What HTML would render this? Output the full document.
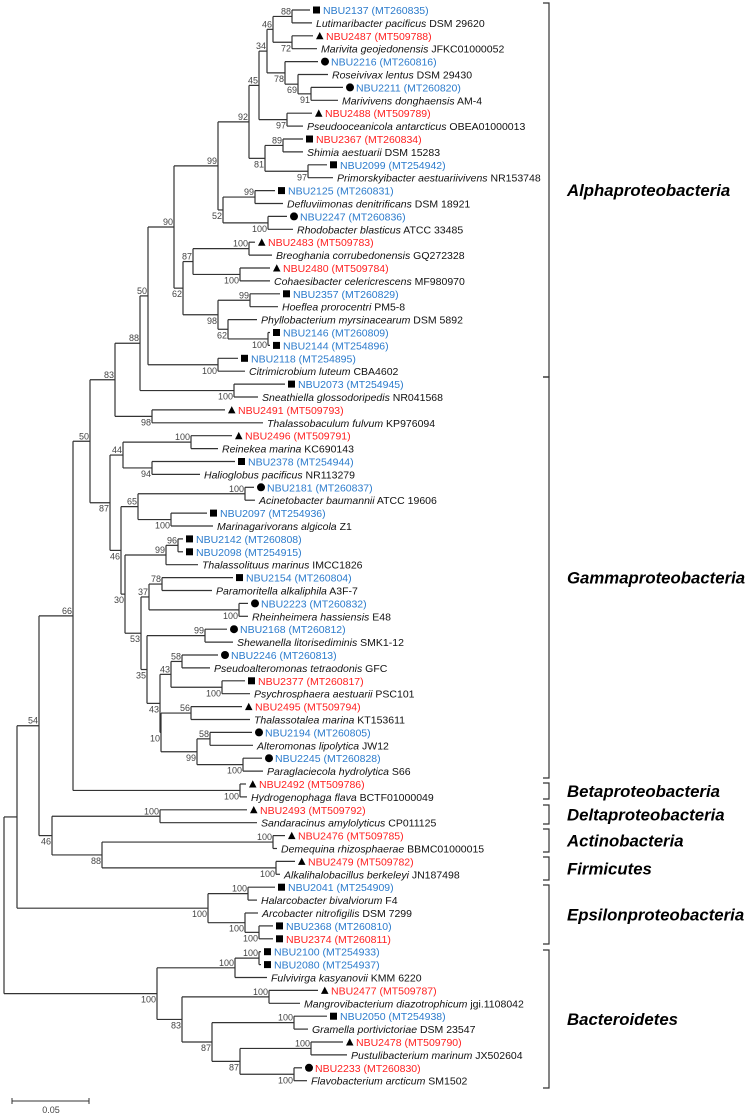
<!DOCTYPE html>
<html><head><meta charset="utf-8"><style>
html,body{margin:0;padding:0;background:#fff;}
svg{display:block;font-family:"Liberation Sans",Arial,sans-serif;}
</style></head><body>
<svg id="tree" width="749" height="1116" viewBox="0 0 749 1116" xmlns="http://www.w3.org/2000/svg">
<g id="branches" stroke="#333" stroke-width="1.2" fill="none"></g>
<g id="supports" font-size="9" fill="#444"></g>
<g id="leaves" font-size="10.5"></g>
<g id="brackets"></g>
<g>
<line x1="12" y1="1101" x2="89" y2="1101" stroke="#333" stroke-width="1"/>
<line x1="12" y1="1098" x2="12" y2="1104" stroke="#333" stroke-width="1"/>
<line x1="89" y1="1098" x2="89" y2="1104" stroke="#333" stroke-width="1"/>
<text x="51" y="1113" font-size="9" fill="#444" text-anchor="middle">0.05</text>
</g>
</svg>
<script>
var NS="http://www.w3.org/2000/svg";
var BLUE="#2b7bcc", RED="#ff2020";
// class groups
var groupNames=["Alphaproteobacteria","Gammaproteobacteria","Betaproteobacteria","Deltaproteobacteria","Actinobacteria","Firmicutes","Epsilonproteobacteria","Bacteroidetes"];
var groupStart=[3,377,783,805,829,857,885,950];
var groupEnd=[377,778,799,824,852,880,944,1088];

var leafIdx=0;
var ROW0=10, ROWH=12.9;
function L(tip,label,col,mk){return {leaf:true,tip:tip,label:label,col:col,mk:mk};}
function S(tip,sp,strain){return {leaf:true,tip:tip,sp:sp,strain:strain};}
function N(x,s,pos,c1,c2){return {x:x,s:s,pos:pos,c:[c1,c2]};}

// Alphaproteobacteria
var a88=N(292,'88','a',L(310,'NBU2137 (MT260835)','b','sq'),S(312,'Lutimaribacter pacificus','DSM 29620'));
var a72=N(292,'72','b',L(313,'NBU2487 (MT509788)','r','tr'),S(317,'Marivita geojedonensis','JFKC01000052'));
var a46=N(273,'46','a',a88,a72);
var a91=N(311,'91','b',L(343,'NBU2211 (MT260820)','b','ci'),S(338,'Marivivens donghaensis','AM-4'));
var a69=N(298,'69','b',S(328,'Roseivivax lentus','DSM 29430'),a91);
var a78=N(285,'78','b',L(318,'NBU2216 (MT260816)','b','ci'),a69);
var a34=N(267,'34','a',a46,a78);
var a97=N(287,'97','b',L(312,'NBU2488 (MT509789)','r','tr'),S(303,'Pseudooceanicola antarcticus','OBEA01000013'));
var a45=N(259,'45','a',a34,a97);
var a89=N(283,'89','a',L(303,'NBU2367 (MT260834)','r','sq'),S(303,'Shimia aestuarii','DSM 15283'));
var a97b=N(308,'97','b',L(327,'NBU2099 (MT254942)','b','sq'),S(333,'Primorskyibacter aestuariivivens','NR153748'));
var a81=N(265,'81','b',a89,a97b);
var a92=N(249,'92','a',a45,a81);
var a99d=N(255,'99','a',L(275,'NBU2125 (MT260831)','b','sq'),S(283,'Defluviimonas denitrificans','DSM 18921'));
var a100r=N(268,'100','b',L(287,'NBU2247 (MT260836)','b','ci'),S(293,'Rhodobacter blasticus','ATCC 33485'));
var a52=N(223,'52','b',a99d,a100r);
var a99=N(218,'99','a',a92,a52);
var a100br=N(249,'100','a',L(255,'NBU2483 (MT509783)','r','tr'),S(272,'Breoghania corrubedonensis','GQ272328'));
var a100co=N(240,'100','b',L(270,'NBU2480 (MT509784)','r','tr'),S(270,'Cohaesibacter celericrescens','MF980970'));
var a87=N(193,'87','a',a100br,a100co);
var a99h=N(250,'99','a',L(280,'NBU2357 (MT260829)','b','sq'),S(278,'Hoeflea prorocentri','PM5-8'));
var a100p=N(268,'100','b',L(270,'NBU2146 (MT260809)','b','sq'),L(270,'NBU2144 (MT254896)','b','sq'));
var a62b=N(228,'62','b',S(257,'Phyllobacterium myrsinacearum','DSM 5892'),a100p);
var a98=N(218,'98','b',a99h,a62b);
var a62=N(183,'62','b',a87,a98);
var a90=N(174,'90','a',a99,a62);
var a100c=N(218,'100','b',L(238,'NBU2118 (MT254895)','b','sq'),S(245,'Citrimicrobium luteum','CBA4602'));
var a50=N(148,'50','a',a90,a100c);
var a100s=N(234,'100','b',L(285,'NBU2073 (MT254945)','b','sq'),S(258,'Sneathiella glossodoripedis','NR041568'));
var a88b=N(140,'88','a',a50,a100s);
var a98t=N(152,'98','b',L(225,'NBU2491 (MT509793)','r','tr'),S(263,'Thalassobaculum fulvum','KP976094'));
var a83=N(115,'83','a',a88b,a98t);
// Gammaproteobacteria
var g100re=N(191,'100','a',L(232,'NBU2496 (MT509791)','r','tr'),S(218,'Reinekea marina','KC690143'));
var g94=N(152,'94','b',L(235,'NBU2378 (MT254944)','b','sq'),S(200,'Halioglobus pacificus','NR113279'));
var g44=N(123,'44','a',g100re,g94);
var g100ac=N(245,'100','a',L(254,'NBU2181 (MT260837)','b','ci'),S(255,'Acinetobacter baumannii','ATCC 19606'));
var g100ma=N(171,'100','b',L(207,'NBU2097 (MT254936)','b','sq'),S(213,'Marinagarivorans algicola','Z1'));
var g65=N(138,'65','a',g100ac,g100ma);
var g96=N(178,'96','a',L(183,'NBU2142 (MT260808)','b','sq'),L(183,'NBU2098 (MT254915)','b','sq'));
var g99=N(166,'99','a',g96,S(198,'Thalassolituus marinus','IMCC1826'));
var g78=N(162,'78','a',L(233,'NBU2154 (MT260804)','b','sq'),S(212,'Paramoritella alkaliphila','A3F-7'));
var g100rh=N(239,'100','b',L(248,'NBU2223 (MT260832)','b','ci'),S(248,'Rheinheimera hassiensis','E48'));
var g37=N(149,'37','a',g78,g100rh);
var g99sh=N(205,'99','a',L(227,'NBU2168 (MT260812)','b','ci'),S(233,'Shewanella litorisediminis','SMK1-12'));
var g58=N(182,'58','a',L(218,'NBU2246 (MT260813)','b','ci'),S(210,'Pseudoalteromonas tetraodonis','GFC'));
var g100ps=N(222,'100','b',L(245,'NBU2377 (MT260817)','r','sq'),S(250,'Psychrosphaera aestuarii','PSC101'));
var g43u=N(171,'43','a',g58,g100ps);
var g56=N(191,'56','a',L(242,'NBU2495 (MT509794)','r','tr'),S(250,'Thalassotalea marina','KT153611'));
var g58b=N(210,'58','a',L(252,'NBU2194 (MT260805)','b','ci'),S(253,'Alteromonas lipolytica','JW12'));
var g100pa=N(243,'100','b',L(262,'NBU2245 (MT260828)','b','ci'),S(263,'Paraglaciecola hydrolytica','S66'));
var g99b=N(197,'99','b',g58b,g100pa);
var g10=N(161,'10','b',g56,g99b);
var g43=N(160,'43','b',g43u,g10);
var g35=N(147,'35','b',g99sh,g43);
var g53=N(141,'53','b',g37,g35);
var g30=N(125,'30','b',g99,g53);
var g46=N(121,'46','b',g65,g30);
var g87=N(110,'87','b',g44,g46);
var n50=N(90,'50','a',a83,g87);
var hy=N(240,'100','b',L(246,'NBU2492 (MT509786)','r','tr'),S(247,'Hydrogenophaga flava','BCTF01000049'));
var n66=N(73,'66','a',n50,hy);
var sa=N(160,'100','a',L(247,'NBU2493 (MT509792)','r','tr'),S(257,'Sandaracinus amylolyticus','CP011125'));
var de=N(273,'100','a',L(285,'NBU2476 (MT509785)','r','tr'),S(277,'Demequina rhizosphaerae','BBMC01000015'));
var al=N(276,'100','b',L(295,'NBU2479 (MT509782)','r','tr'),S(280,'Alkalihalobacillus berkeleyi','JN187498'));
var n88=N(102,'88','b',de,al);
var n46=N(52,'46','b',sa,n88);
var n54=N(39,'54','a',n66,n46);
// Epsilon
var e100h=N(248,'100','a',L(275,'NBU2041 (MT254909)','b','sq'),S(257,'Halarcobacter bivalviorum','F4'));
var e100n=N(259,'100','b',L(273,'NBU2368 (MT260810)','b','sq'),L(273,'NBU2374 (MT260811)','r','sq'));
var e100a=N(245,'100','b',S(258,'Arcobacter nitrofigilis','DSM 7299'),e100n);
var e100=N(208,'100','b',e100h,e100a);
var n17=N(17,'','',n54,e100);
// Bacteroidetes
var b100n=N(259,'100','a',L(261,'NBU2100 (MT254933)','b','sq'),L(261,'NBU2080 (MT254937)','b','sq'));
var b100f=N(235,'100','a',b100n,S(267,'Fulvivirga kasyanovii','KMM 6220'));
var b100m=N(269,'100','a',L(318,'NBU2477 (MT509787)','r','tr'),S(300,'Mangrovibacterium diazotrophicum','jgi.1108042'));
var b100g=N(294,'100','a',L(327,'NBU2050 (MT254938)','b','sq'),S(308,'Gramella portivictoriae','DSM 23547'));
var b100pu=N(311,'100','a',L(343,'NBU2478 (MT509790)','r','tr'),S(347,'Pustulibacterium marinum','JX502604'));
var b100fl=N(294,'100','b',L(302,'NBU2233 (MT260830)','r','ci'),S(307,'Flavobacterium arcticum','SM1502'));
var b87b=N(240,'87','b',b100pu,b100fl);
var b87=N(212,'87','b',b100g,b87b);
var b83=N(182,'83','b',b100m,b87);
var b100=N(157,'100','b',b100f,b83);
var tree=N(4,'','',n17,b100);

var gB=document.getElementById('branches');
var gS=document.getElementById('supports');
var gL=document.getElementById('leaves');
function mk(tag,attrs,parent){var e=document.createElementNS(NS,tag);for(var k in attrs)e.setAttribute(k,attrs[k]);parent.appendChild(e);return e;}

function layout(n){
  if(n.leaf){n.y=ROW0+ROWH*(leafIdx++);return;}
  n.c.forEach(layout);
  n.y=(n.c[0].y+n.c[n.c.length-1].y)/2;
}
layout(tree);

function draw(n,px){
  if(n.leaf){
    var h=mk('line',{x1:px,y1:n.y,x2:n.tip,y2:n.y},gB);
    
    
    if(n.label){
      var mx=n.tip+3;
      var m;
      if(n.mk==='sq'){m=mk('rect',{x:mx,y:n.y-3.5,width:7,height:7,fill:'#000'},gL);}
      else if(n.mk==='tr'){m=mk('polygon',{points:mx+','+(n.y+3.5)+' '+(mx+7.5)+','+(n.y+3.5)+' '+(mx+3.75)+','+(n.y-3.8),fill:'#000'},gL);}
      else {m=mk('circle',{cx:mx+4,cy:n.y,r:4,fill:'#000'},gL);}
      
      
      var t=mk('text',{x:n.tip+13,y:n.y+4,fill:n.col==='b'?BLUE:RED},gL);
      t.textContent=n.label;
      
      
    } else {
      var t2=mk('text',{x:n.tip+4,y:n.y+4,fill:'#111'},gL);
      var sa1=document.createElementNS(NS,'tspan');sa1.setAttribute('font-style','italic');sa1.textContent=n.sp;t2.appendChild(sa1);
      var sb1=document.createElementNS(NS,'tspan');sb1.textContent=' '+n.strain;t2.appendChild(sb1);
      
      
    }
    return;
  }
  if(px!==null){
    var hh=mk('line',{x1:px,y1:n.y,x2:n.x,y2:n.y},gB);
    
    
  }
  var v=mk('line',{x1:n.x,y1:n.c[0].y,x2:n.x,y2:n.c[n.c.length-1].y},gB);
  
  
  if(n.s){
    var ts=mk('text',{x:n.x-1,y:n.pos==='a'?n.y-2:n.y+9,'text-anchor':'end'},gS);
    ts.textContent=n.s;
    
    
  }
  n.c.forEach(function(c){draw(c,n.x);});
}
draw(tree,null);

var gBr=document.getElementById('brackets');
groupNames.forEach(function(g,i){
  var p=mk('path',{d:'M543 '+groupStart[i]+' H549 V'+groupEnd[i]+' H543',stroke:'#333','stroke-width':1.2,fill:'none'},gBr);
  
  
  var t=mk('text',{x:567,y:(groupStart[i]+groupEnd[i])/2+6,'font-size':16.8,'font-weight':'bold','font-style':'italic',fill:'#000'},gBr);
  t.textContent=g;
  
  
});
</script>
</body></html>
